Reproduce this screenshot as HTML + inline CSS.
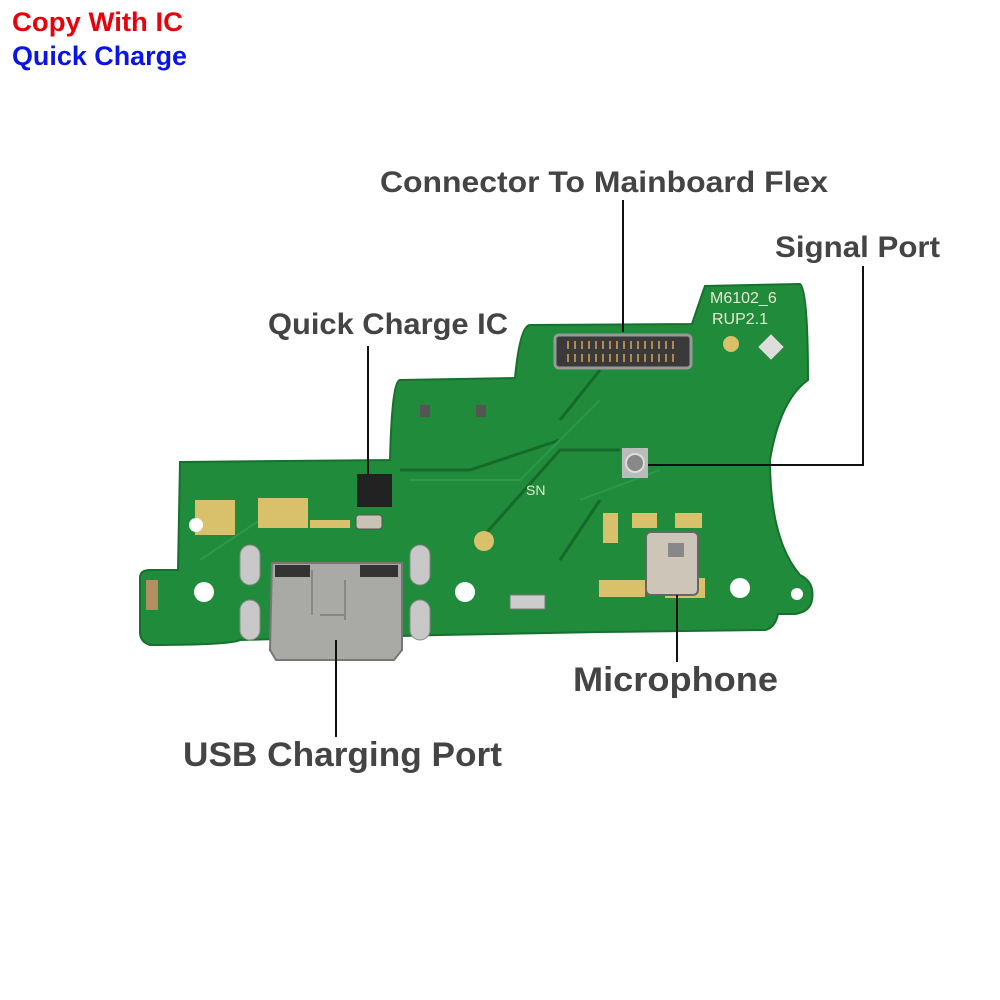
<!DOCTYPE html>
<html><head><meta charset="utf-8"><style>
html,body{margin:0;padding:0;background:#fff;}
svg{display:block}
</style></head><body>
<svg width="1000" height="1000" viewBox="0 0 1000 1000" xmlns="http://www.w3.org/2000/svg" font-family="Liberation Sans, sans-serif">
<rect width="1000" height="1000" fill="#fff"/>
<text x="12" y="31" font-size="27" font-weight="bold" fill="#e8000b" textLength="171" lengthAdjust="spacingAndGlyphs">Copy With IC</text>
<text x="12" y="65" font-size="27" font-weight="bold" fill="#0a14e6" textLength="175" lengthAdjust="spacingAndGlyphs">Quick Charge</text>

<!-- board -->
<path d="M180,462 L390,460 Q392,380 400,380 L515,378 Q520,325 530,325 L692,324 Q700,300 705,286 L800,284 Q808,290 808,380 Q780,400 770,460 Q770,540 800,575 Q815,582 812,600 Q810,612 795,614 L778,614 Q775,628 765,630 L600,632 L440,635 L240,640 Q230,645 150,645 Q140,642 140,632 L140,578 Q140,570 150,570 L178,570 Z" fill="#1f8b3b" stroke="#17702e" stroke-width="2"/>
<path d="M400,470 L470,470 L560,440 M560,420 L600,370 M480,540 L560,450 L620,450 M560,560 L600,500" stroke="#156a2b" stroke-width="3" fill="none"/>
<path d="M410,480 L520,480 L600,400 M200,560 L260,520 M580,500 L660,470" stroke="#2a9a48" stroke-width="2" fill="none"/>
<!-- connector -->
<rect x="555" y="335" width="136" height="33" rx="4" fill="#3a3a3a" stroke="#999" stroke-width="3"/>
<g stroke="#b08a50" stroke-width="2">
<path d="M568,341 v8 M575,341 v8 M582,341 v8 M589,341 v8 M596,341 v8 M603,341 v8 M610,341 v8 M617,341 v8 M624,341 v8 M631,341 v8 M638,341 v8 M645,341 v8 M652,341 v8 M659,341 v8 M666,341 v8 M673,341 v8"/>
<path d="M568,354 v8 M575,354 v8 M582,354 v8 M589,354 v8 M596,354 v8 M603,354 v8 M610,354 v8 M617,354 v8 M624,354 v8 M631,354 v8 M638,354 v8 M645,354 v8 M652,354 v8 M659,354 v8 M666,354 v8 M673,354 v8"/>
</g>
<text x="710" y="303" font-size="16" fill="#e8e8d0">M6102_6</text>
<text x="712" y="324" font-size="16" fill="#e8e8d0">RUP2.1</text>
<circle cx="731" cy="344" r="8" fill="#d9c06a"/>
<rect x="762" y="338" width="18" height="18" fill="#ddd" transform="rotate(45 771 347)"/>
<text x="526" y="495" font-size="14" fill="#e8e8d0">SN</text>
<!-- IC -->
<rect x="357" y="474" width="35" height="33" fill="#222"/>
<rect x="356" y="515" width="26" height="14" rx="3" fill="#c9c3b6" stroke="#555"/>
<g fill="#555"><rect x="420" y="405" width="10" height="12"/><rect x="476" y="405" width="10" height="12"/></g>
<!-- signal port -->
<rect x="622" y="448" width="26" height="30" fill="#bbb"/>
<circle cx="635" cy="463" r="9" fill="#888" stroke="#ddd" stroke-width="2"/>
<!-- pads -->
<g fill="#d9c06a">
<circle cx="484" cy="541" r="10"/>
<rect x="603" y="513" width="15" height="30"/><rect x="632" y="513" width="25" height="15"/><rect x="675" y="513" width="27" height="15"/>
<rect x="599" y="580" width="46" height="17"/><rect x="665" y="578" width="40" height="20"/>
<rect x="258" y="498" width="50" height="30"/><rect x="195" y="500" width="40" height="35"/>
<rect x="310" y="520" width="40" height="8"/>
</g>
<!-- microphone -->
<rect x="646" y="532" width="52" height="63" rx="5" fill="#cdc5b8" stroke="#666" stroke-width="2"/>
<rect x="668" y="543" width="16" height="14" fill="#888"/>
<!-- holes -->
<g fill="#fff">
<circle cx="196" cy="525" r="7"/><circle cx="204" cy="592" r="10"/><circle cx="465" cy="592" r="10"/><circle cx="740" cy="588" r="10"/><circle cx="797" cy="594" r="6"/>
</g>
<!-- USB oval pads -->
<g fill="#c8c8c8" stroke="#888"><rect x="240" y="545" width="20" height="40" rx="10"/><rect x="240" y="600" width="20" height="40" rx="10"/><rect x="410" y="545" width="20" height="40" rx="10"/><rect x="410" y="600" width="20" height="40" rx="10"/></g>
<!-- USB port -->
<path d="M272,563 L402,563 L402,650 L394,660 L276,660 L270,650 Z" fill="#a9a9a6" stroke="#777" stroke-width="2"/>
<rect x="275" y="565" width="35" height="12" fill="#333"/><rect x="360" y="565" width="38" height="12" fill="#333"/>
<path d="M312,570 v45 M345,580 v40 M320,615 h25" stroke="#888" stroke-width="2" fill="none"/>
<rect x="510" y="595" width="35" height="14" fill="#ccc" stroke="#777"/>
<rect x="146" y="580" width="12" height="30" fill="#b09060"/>

<!-- labels -->
<g font-weight="bold" fill="#444">
<text x="380" y="192" font-size="30" textLength="448" lengthAdjust="spacingAndGlyphs">Connector To Mainboard Flex</text>
<text x="775" y="257" font-size="30" textLength="165" lengthAdjust="spacingAndGlyphs">Signal Port</text>
<text x="268" y="334" font-size="30" textLength="240" lengthAdjust="spacingAndGlyphs">Quick Charge IC</text>
<text x="573" y="691" font-size="34" textLength="205" lengthAdjust="spacingAndGlyphs">Microphone</text>
<text x="183" y="766" font-size="34" textLength="319" lengthAdjust="spacingAndGlyphs">USB Charging Port</text>
</g>
<g stroke="#111" stroke-width="2" fill="none">
<path d="M623,200 V332"/>
<path d="M863,266 V465 H648"/>
<path d="M368,346 V474"/>
<path d="M677,595 V662"/>
<path d="M336,640 V737"/>
</g>
</svg>
</body></html>
